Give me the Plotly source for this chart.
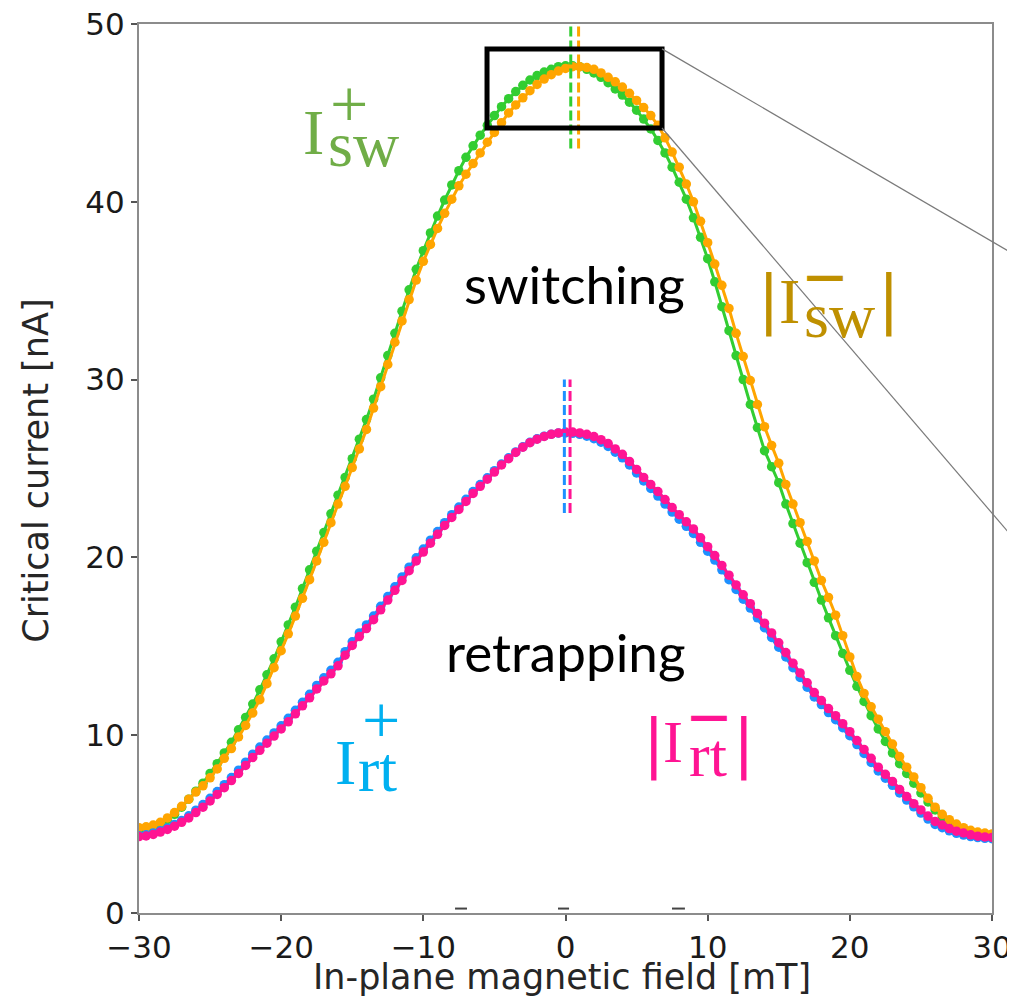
import plotly.graph_objects as go

# ---------------- data ----------------
field_mT = [-30 + 0.5 * i for i in range(121)]

sw_plus = [4.7, 4.75, 4.85, 5.0, 5.25, 5.55, 5.95, 6.4, 6.85, 7.3,
           7.85, 8.4, 9.0, 9.6, 10.3, 11.0, 11.75, 12.55, 13.4, 14.3,
           15.25, 16.2, 17.2, 18.25, 19.3, 20.35, 21.4, 22.45, 23.5, 24.5,
           25.55, 26.65, 27.75, 28.9, 30.1, 31.35, 32.6, 33.85, 35.05, 36.2,
           37.25, 38.25, 39.2, 40.1, 40.95, 41.75, 42.5, 43.15, 43.75, 44.3,
           44.85, 45.35, 45.8, 46.2, 46.55, 46.85, 47.1, 47.3, 47.45, 47.6,
           47.65, 47.65, 47.6, 47.45, 47.25, 47.0, 46.7, 46.35, 46.0, 45.6,
           45.15, 44.65, 44.1, 43.45, 42.75, 41.95, 41.1, 40.15, 39.1, 38.0,
           36.8, 35.5, 34.1, 32.75, 31.35, 30.0, 28.6, 27.3, 26.0, 25.1,
           24.2, 23.0, 21.9, 20.8, 19.7, 18.6, 17.6, 16.6, 15.6, 14.6,
           13.65, 12.75, 11.9, 11.1, 10.35, 9.65, 9.0, 8.4, 7.85, 7.3,
           6.75, 6.25, 5.8, 5.4, 5.1, 4.85, 4.65, 4.52, 4.45, 4.4, 4.38]

sw_minus = [4.8, 4.85, 4.95, 5.1, 5.35, 5.65, 6.0, 6.4, 6.8, 7.15,
            7.6, 8.1, 8.7, 9.25, 9.9, 10.55, 11.25, 12.0, 12.9, 13.8,
            14.75, 15.7, 16.7, 17.7, 18.75, 19.8, 20.85, 21.95, 23.0, 24.0,
            25.05, 26.1, 27.2, 28.4, 29.6, 30.85, 32.1, 33.3, 34.5, 35.6,
            36.65, 37.6, 38.5, 39.35, 40.15, 40.9, 41.55, 42.15, 42.75, 43.35,
            43.9, 44.45, 45.0, 45.45, 45.85, 46.25, 46.6, 46.9, 47.15, 47.35,
            47.5, 47.6, 47.6, 47.55, 47.45, 47.25, 47.0, 46.75, 46.45, 46.1,
            45.7, 45.3, 44.85, 44.3, 43.6, 42.8, 41.95, 41.0, 40.0, 38.9,
            37.7, 36.5, 35.3, 34.0, 32.6, 31.3, 29.95, 28.6, 27.35, 26.3,
            25.3, 24.1, 23.0, 21.95, 20.9, 19.8, 18.7, 17.75, 16.75, 15.6,
            14.4, 13.3, 12.35, 11.6, 10.9, 10.2, 9.5, 8.8, 8.2, 7.65,
            7.05, 6.45, 5.95, 5.55, 5.25, 5.0, 4.8, 4.65, 4.55, 4.5, 4.45]

rt_plus = [4.35, 4.4, 4.5, 4.62, 4.78, 4.98, 5.2, 5.47, 5.78, 6.1,
           6.45, 6.83, 7.22, 7.62, 8.03, 8.48, 8.93, 9.33, 9.73, 10.13,
           10.53, 10.95, 11.4, 11.85, 12.3, 12.8, 13.23, 13.65, 14.1, 14.7,
           15.25, 15.75, 16.2, 16.7, 17.25, 17.8, 18.35, 18.9, 19.45, 19.98,
           20.47, 20.97, 21.45, 21.95, 22.4, 22.83, 23.27, 23.7, 24.1, 24.48,
           24.88, 25.25, 25.6, 25.93, 26.22, 26.47, 26.67, 26.82, 26.93, 26.99,
           27.0, 26.98, 26.92, 26.82, 26.68, 26.48, 26.24, 25.92, 25.6, 25.2,
           24.75, 24.3, 23.88, 23.45, 23.0, 22.55, 22.15, 21.75, 21.35, 20.85,
           20.35, 19.85, 19.3, 18.75, 18.2, 17.65, 17.15, 16.6, 16.05, 15.5,
           14.95, 14.4, 13.8, 13.25, 12.7, 12.15, 11.72, 11.27, 10.87, 10.42,
           9.97, 9.47, 8.97, 8.47, 7.99, 7.58, 7.18, 6.75, 6.35, 5.97,
           5.62, 5.28, 4.98, 4.8, 4.62, 4.48, 4.38, 4.3, 4.24, 4.2, 4.18]

rt_minus = [4.3, 4.33, 4.42, 4.55, 4.7, 4.88, 5.1, 5.35, 5.65, 5.95,
            6.3, 6.67, 7.05, 7.45, 7.85, 8.3, 8.75, 9.15, 9.55, 9.95,
            10.35, 10.75, 11.2, 11.65, 12.1, 12.6, 13.05, 13.45, 13.9, 14.5,
            15.05, 15.55, 16.0, 16.5, 17.05, 17.6, 18.15, 18.7, 19.25, 19.8,
            20.3, 20.8, 21.3, 21.8, 22.25, 22.7, 23.15, 23.6, 24.0, 24.4,
            24.8, 25.2, 25.55, 25.9, 26.2, 26.45, 26.65, 26.8, 26.92, 27.0,
            27.05, 27.05, 27.0, 26.92, 26.8, 26.62, 26.4, 26.1, 25.8, 25.4,
            24.95, 24.5, 24.1, 23.7, 23.25, 22.8, 22.4, 22.0, 21.6, 21.1,
            20.6, 20.1, 19.55, 19.0, 18.45, 17.9, 17.4, 16.85, 16.3, 15.75,
            15.2, 14.65, 14.05, 13.5, 12.95, 12.4, 11.95, 11.5, 11.1, 10.65,
            10.2, 9.7, 9.2, 8.7, 8.2, 7.8, 7.4, 6.95, 6.55, 6.15,
            5.8, 5.45, 5.15, 4.95, 4.75, 4.6, 4.5, 4.4, 4.32, 4.28, 4.25]

# positions of the maxima (dashed markers)
peak_sw_plus, peak_sw_minus = 0.37, 0.92
peak_rt_plus, peak_rt_minus = -0.08, 0.32

x_ticks = [-30, -20, -10, 0, 10, 20, 30]
y_ticks = [0, 10, 20, 30, 40, 50]

# ---------------- styles ----------------
C_GREEN, C_ORANGE, C_BLUE, C_PINK = "#32CD32", "#FFA500", "#1E90FF", "#FF1493"
L_GREEN, L_GOLD, L_BLUE, L_PINK = "#70AD47", "#BF9000", "#00B0F0", "#FF1493"

fig = go.Figure()

def add_series(y, color):
    fig.add_trace(go.Scatter(
        x=field_mT, y=y, mode="lines+markers",
        line=dict(color=color, width=3),
        marker=dict(color=color, size=9.5),
        showlegend=False, hoverinfo="skip"))

add_series(sw_plus, C_GREEN)
add_series(sw_minus, C_ORANGE)
add_series(rt_plus, C_BLUE)
add_series(rt_minus, C_PINK)

def add_vdash(x, y0, y1, color):
    fig.add_trace(go.Scatter(
        x=[x, x], y=[y0, y1], mode="lines",
        line=dict(color=color, width=3, dash="10px,4px"),
        showlegend=False, hoverinfo="skip", cliponaxis=False))

add_vdash(peak_sw_plus, 43.0, 50.0, C_GREEN)
add_vdash(peak_sw_minus, 43.0, 50.0, C_ORANGE)
add_vdash(peak_rt_plus, 22.5, 30.0, C_BLUE)
add_vdash(peak_rt_minus, 22.5, 30.0, C_PINK)

# zoom rectangle and its connector lines
rect = dict(x0=-5.52, x1=6.79, y0=44.15, y1=48.6)
fig.add_shape(type="rect", xref="x", yref="y", **rect,
              line=dict(color="black", width=5), fillcolor="rgba(0,0,0,0)")
px_corner = (rect["x1"] + 30) / 60
fig.add_shape(type="line", xref="paper", yref="paper",
              x0=px_corner, y0=rect["y1"] / 50, x1=1.04, y1=0.733,
              line=dict(color="#7a7a7a", width=1.2))
fig.add_shape(type="line", xref="paper", yref="paper",
              x0=px_corner, y0=rect["y0"] / 50, x1=1.04, y1=0.405,
              line=dict(color="#7a7a7a", width=1.2))

# small dark remnants near the bottom axis
for xa, xb in [(-7.77, -6.93), (-0.53, 0.25), (7.49, 8.4)]:
    fig.add_shape(type="line", xref="x", yref="y", x0=xa, x1=xb, y0=0.25, y1=0.25,
                  line=dict(color="#444444", width=2))

# ---------------- text ----------------
SERIF = "Liberation Serif"
SANS = "Lato"
BAR_FONT = "DejaVu Sans"

def txt(x, y, s, color, size, font=SERIF):
    fig.add_annotation(x=x, y=y, xref="x", yref="y", text=s, showarrow=False,
                       font=dict(family=font, size=size, color=color),
                       xanchor="center", yanchor="middle")

# I_sw^+
txt(-17.76, 43.9, "I", L_GREEN, 64)
txt(-15.23, 45.5, "+", L_GREEN, 68)
txt(-14.24, 43.2, "sw", L_GREEN, 64)
# |I_sw^-|
txt(14.3, 34.48, "|", L_GOLD, 64, BAR_FONT)
txt(15.79, 34.42, "I", L_GOLD, 64)
txt(18.28, 35.85, "<b>\u2014</b>", L_GOLD, 40, BAR_FONT)
txt(19.3, 33.6, "sw", L_GOLD, 64)
txt(22.78, 34.48, "|", L_GOLD, 64, BAR_FONT)
# I_rt^+
txt(-15.44, 8.46, "I", L_BLUE, 64)
txt(-12.97, 10.85, "+", L_BLUE, 68)
txt(-13.2, 8.05, "rt", L_BLUE, 64)
# |I_rt^-|
txt(6.19, 9.53, "|", L_PINK, 64, BAR_FONT)
txt(7.59, 9.62, "I", L_PINK, 60)
txt(10.06, 11.1, "<b>\u2014</b>", L_PINK, 40, BAR_FONT)
txt(10.02, 8.9, "rt", L_PINK, 62)
txt(12.55, 9.53, "|", L_PINK, 64, BAR_FONT)

txt(0.6, 35.4, "switching", "black", 53, SANS)
txt(0.03, 14.7, "retrapping", "black", 53, SANS)

# axis titles
fig.add_annotation(x=0.496, y=-0.072, xref="paper", yref="paper",
                   text="In-plane magnetic field [mT]", showarrow=False,
                   font=dict(family="DejaVu Sans", size=35, color="#262626"),
                   xanchor="center", yanchor="middle")
fig.add_annotation(x=-0.12, y=0.497, xref="paper", yref="paper",
                   text="Critical current [nA]", showarrow=False, textangle=-90,
                   font=dict(family="DejaVu Sans", size=35, color="#262626"),
                   xanchor="center", yanchor="middle")

axis_common = dict(showgrid=False, zeroline=False, showline=True, mirror=True,
                   linecolor="#8c8c8c", linewidth=2, ticks="outside", ticklen=6,
                   tickwidth=1.5, tickcolor="#555555", ticklabeloverflow="allow",
                   tickfont=dict(family="DejaVu Sans", size=31, color="#1a1a1a"))

fig.update_xaxes(range=[-30, 30], tickvals=x_ticks,
                 ticktext=[str(v).replace("-", "\u2212") for v in x_ticks],
                 **axis_common)
fig.update_yaxes(range=[0, 50], tickvals=y_ticks,
                 ticktext=[str(v) for v in y_ticks], **axis_common)

# the page adds an 8 px body margin on every side; size the figure to fit
fig.update_layout(width=999, height=989, plot_bgcolor="white",
                  paper_bgcolor="white",
                  margin=dict(l=131, r=15, t=16, b=84, autoexpand=False))

fig.write_html("out.html")
